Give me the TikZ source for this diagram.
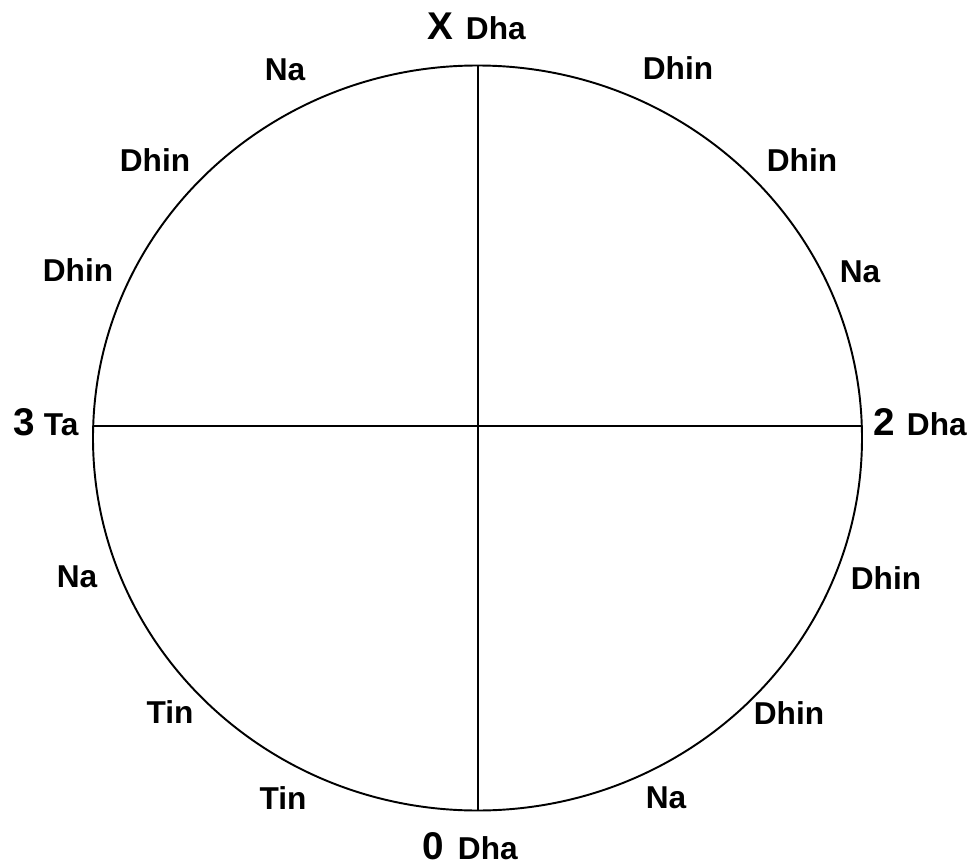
\documentclass[tikz,border=0pt]{standalone}
\usepackage{fontspec}
\setmainfont{Liberation Sans}
\usetikzlibrary{positioning}

\tikzset{
  bol/.style={font=\bfseries\fontsize{18}{18}\selectfont, inner sep=0pt},
  beat/.style={font=\bfseries\fontsize{22}{22}\selectfont, inner sep=0pt, anchor=base west},
  tali/.style={bol, anchor=base west},
}

\begin{document}
\begin{tikzpicture}[x=0.02cm, y=-0.02cm, line width=1.1pt]
\useasboundingbox (0,0) rectangle (967,865);
% the cycle
\coordinate (mid) at (477.5,438);
\draw (mid) ellipse [x radius=384.5, y radius=372.5];
\coordinate (sam) at (478,66);
\coordinate (khali) at (478,810);
\coordinate (west) at (93,426);
\coordinate (east) at (862,426);
\draw (sam) -- (khali);
\draw (west) -- (east);
% vibhag marks
\node[beat] (mx) at (427,40) {X};
\node[tali] (bx) at (465,40) {Dha};
\node[beat] (m2) at (873,435) {2};
\node[tali] (b2) at (906,435) {Dha};
\node[beat] (m0) at (422,859) {0};
\node[tali] (b0) at (457,859) {Dha};
\node[beat] (m3) at (13,435) {3};
\node[tali] (b3) at (43,435) {Ta};
% the other bols
\foreach \x/\y/\t [count=\i] in {678/68/Dhin, 802/160/Dhin, 860/272/Na,
    886/578/Dhin, 789/713/Dhin, 666/798/Na,
    283/798/Tin, 170/712/Tin, 77/577/Na,
    78/270/Dhin, 155/160/Dhin, 285/70/Na} {
  \node[bol] (bol\i) at (\x,\y) {\t};
}
\end{tikzpicture}
\end{document}
